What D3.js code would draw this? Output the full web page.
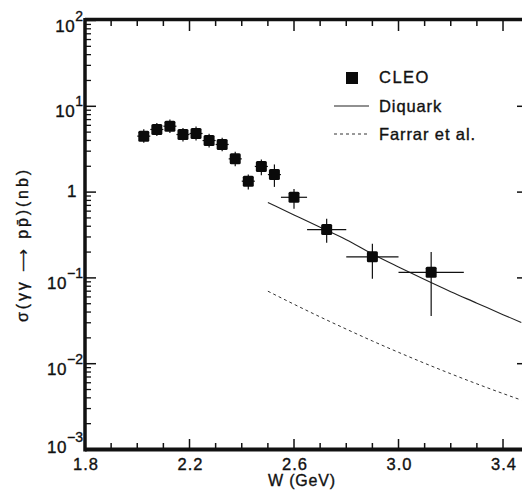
<!DOCTYPE html>
<html>
<head>
<meta charset="utf-8">
<script src="https://cdn.jsdelivr.net/npm/d3@7"></script>
<style>
  body { margin: 0; background: #fff; }
  text { font-family: "Liberation Sans", Arial, sans-serif; fill: #111; stroke: #111; stroke-width: 0.35; }
</style>
</head>
<body>
<svg id="chart" width="522" height="495"></svg>
<script>
// CLEO points, W in GeV, sigma in nb
var cleoW = [2.025, 2.075, 2.125, 2.175, 2.225, 2.275, 2.325, 2.375, 2.425, 2.475, 2.525, 2.6, 2.725, 2.9, 3.125]
var cleoWErr = [0.025, 0.025, 0.025, 0.025, 0.025, 0.025, 0.025, 0.025, 0.025, 0.025, 0.025, 0.05, 0.075, 0.1, 0.125]
var cleoSigma = [4.49, 5.37, 5.86, 4.69, 4.82, 3.99, 3.59, 2.44, 1.34, 1.99, 1.60, 0.87, 0.366, 0.176, 0.116]
var cleoHi = [5.4, 6.4, 7.0, 5.6, 5.8, 4.8, 4.3, 2.95, 1.60, 2.40, 2.10, 1.09, 0.49, 0.25, 0.20]
var cleoLo = [3.75, 4.5, 4.9, 3.9, 4.0, 3.3, 3.0, 2.0, 1.07, 1.57, 1.15, 0.64, 0.257, 0.098, 0.036]

// model curves
var curveW = [2.5, 2.6, 2.7, 2.8, 2.9, 3.0, 3.1, 3.2, 3.3, 3.4, 3.47]
var diquark = [0.755, 0.542, 0.389, 0.279, 0.19, 0.134, 0.0955, 0.069, 0.0508, 0.0373, 0.0303]
var farrar = [0.0700, 0.0493, 0.0351, 0.0253, 0.0184, 0.01357, 0.01012, 0.00763, 0.00582, 0.00449, 0.00377]

// axes
var xMajor = [1.8, 2.2, 2.6, 3.0, 3.4]
var xMajorLabels = ['1.8', '2.2', '2.6', '3.0', '3.4']
var yMajor = [1e2, 1e1, 1, 1e-1, 1e-2, 1e-3]
var yMajorExp = ['2', '1', '', '-1', '-2', '-3']

var svg = d3.select('#chart')
var x = d3.scaleLinear().domain([1.8, 3.47]).range([85, 521.3])
var y = d3.scaleLog().domain([1e-3, 1e2]).range([449.5, 20.5])

var xMinor = d3.range(1.9, 3.46, 0.1).filter(function(v) {
    return !xMajor.some(function(m) { return Math.abs(m - v) < 1e-6 })
})
var yMinor = y.ticks().filter(function(v) {
    return !yMajor.some(function(m) { return Math.abs(m - v) / m < 1e-6 })
})

var frame = svg.append('g').attr('stroke', '#111').attr('fill', 'none')

// bottom ticks
frame.selectAll('line.bmin').data(xMinor).enter().append('line')
    .attr('x1', function(d) { return x(d) }).attr('x2', function(d) { return x(d) })
    .attr('y1', 449).attr('y2', 443).attr('stroke-width', 1.5)
frame.selectAll('line.bmaj').data(xMajor).enter().append('line')
    .attr('x1', function(d) { return x(d) }).attr('x2', function(d) { return x(d) })
    .attr('y1', 449).attr('y2', 439).attr('stroke-width', 1.5)
// top ticks
frame.selectAll('line.tmin').data(xMinor).enter().append('line')
    .attr('x1', function(d) { return x(d) }).attr('x2', function(d) { return x(d) })
    .attr('y1', 20).attr('y2', 26).attr('stroke-width', 1.5)
frame.selectAll('line.tmaj').data(xMajor).enter().append('line')
    .attr('x1', function(d) { return x(d) }).attr('x2', function(d) { return x(d) })
    .attr('y1', 20).attr('y2', 31).attr('stroke-width', 1.5)
// left ticks
frame.selectAll('line.lmin').data(yMinor).enter().append('line')
    .attr('x1', 85).attr('x2', 91)
    .attr('y1', function(d) { return y(d) }).attr('y2', function(d) { return y(d) })
    .attr('stroke-width', 1.3)
frame.selectAll('line.lmaj').data(yMajor).enter().append('line')
    .attr('x1', 85).attr('x2', 96)
    .attr('y1', function(d) { return y(d) }).attr('y2', function(d) { return y(d) })
    .attr('stroke-width', 1.5)
// right ticks (axis itself is just past the edge)
frame.selectAll('line.rmaj').data(yMajor.slice(1, 5)).enter().append('line')
    .attr('x1', 525).attr('x2', 517)
    .attr('y1', function(d) { return y(d) }).attr('y2', function(d) { return y(d) })
    .attr('stroke-width', 1.5)

// frame lines
frame.append('line').attr('x1', 85).attr('x2', 522).attr('y1', 19.5).attr('y2', 19.5).attr('stroke-width', 3.5)
frame.append('line').attr('x1', 85).attr('x2', 522).attr('y1', 449.5).attr('y2', 449.5).attr('stroke-width', 4)
frame.append('line').attr('x1', 85).attr('x2', 85).attr('y1', 18).attr('y2', 451.5).attr('stroke-width', 3.5)

// x labels
svg.selectAll('text.xlab').data(xMajor).enter().append('text')
    .attr('x', function(d) { return x(d) + 1 })
    .attr('y', 470)
    .attr('text-anchor', 'middle')
    .attr('font-size', 16.5)
    .attr('letter-spacing', 1)
    .text(function(d, i) { return xMajorLabels[i] })

svg.append('text').attr('x', 268).attr('y', 486).attr('font-size', 16)
    .attr('letter-spacing', 0.8)
    .text('W (GeV)')

// y labels
var ylab = svg.selectAll('text.ylab').data(yMajor).enter().append('text')
    .attr('x', function(d, i) { return yMajorExp[i] === '' ? 77 : 83 })
    .attr('y', function(d, i) {
        if (yMajorExp[i] === '') return y(d) + 5
        if (i === yMajor.length - 1) return y(d) + 3
        return y(d) + 11
    })
    .attr('text-anchor', 'end')
    .attr('font-size', 17)
ylab.append('tspan').attr('letter-spacing', 0.5).text(function(d, i) { return yMajorExp[i] === '' ? '1' : '10' })
ylab.append('tspan').attr('dy', -11).attr('font-size', 14)
    .text(function(d, i) { return yMajorExp[i].replace('-', '\u2212') })

svg.append('text')
    .attr('transform', 'translate(28,246) rotate(-90)')
    .attr('text-anchor', 'middle')
    .attr('font-size', 16)
    .attr('textLength', 152)
    .attr('lengthAdjust', 'spacing')
    .text('\u03c3(\u03b3\u03b3 \u27f6 pp\u0304)(nb)')

// curves
var line = d3.line()
    .x(function(d) { return x(d[0]) })
    .y(function(d) { return y(d[1]) })
    .curve(d3.curveMonotoneX)

svg.append('path')
    .attr('d', line(d3.zip(curveW, diquark)))
    .attr('fill', 'none').attr('stroke', '#222').attr('stroke-width', 1.1)
svg.append('path')
    .attr('d', line(d3.zip(curveW, farrar)))
    .attr('fill', 'none').attr('stroke', '#333').attr('stroke-width', 1)
    .attr('stroke-dasharray', '3,3')

// CLEO points with error bars
var pts = svg.append('g').selectAll('g').data(cleoW).enter().append('g')
pts.append('line')
    .attr('x1', function(d, i) { return x(d - cleoWErr[i]) })
    .attr('x2', function(d, i) { return x(d + cleoWErr[i]) })
    .attr('y1', function(d, i) { return y(cleoSigma[i]) })
    .attr('y2', function(d, i) { return y(cleoSigma[i]) })
    .attr('stroke', '#111').attr('stroke-width', 1.2)
pts.append('line')
    .attr('x1', function(d) { return x(d) })
    .attr('x2', function(d) { return x(d) })
    .attr('y1', function(d, i) { return y(cleoHi[i]) })
    .attr('y2', function(d, i) { return y(cleoLo[i]) })
    .attr('stroke', '#111').attr('stroke-width', 1.2)
pts.append('rect')
    .attr('x', function(d) { return x(d) - 5.5 })
    .attr('y', function(d, i) { return y(cleoSigma[i]) - 5.5 })
    .attr('width', 11).attr('height', 11)
    .attr('rx', 1.5)
    .attr('fill', '#0a0a0a')

// legend
var legend = svg.append('g')
legend.append('rect').attr('x', 346).attr('y', 72).attr('width', 12).attr('height', 12).attr('fill', '#0a0a0a')
legend.append('text').attr('x', 379).attr('y', 83).attr('font-size', 16.5).attr('letter-spacing', 1.5).text('CLEO')
legend.append('line').attr('x1', 334).attr('x2', 369).attr('y1', 106).attr('y2', 106)
    .attr('stroke', '#222').attr('stroke-width', 1.1)
legend.append('text').attr('x', 379).attr('y', 112).attr('font-size', 16.5).attr('letter-spacing', 0.9).text('Diquark')
legend.append('line').attr('x1', 334).attr('x2', 367).attr('y1', 134).attr('y2', 134)
    .attr('stroke', '#333').attr('stroke-width', 1).attr('stroke-dasharray', '3,3')
legend.append('text').attr('x', 379).attr('y', 140).attr('font-size', 16.5).attr('letter-spacing', 0.9).text('Farrar et al.')
</script>
</body>
</html>
